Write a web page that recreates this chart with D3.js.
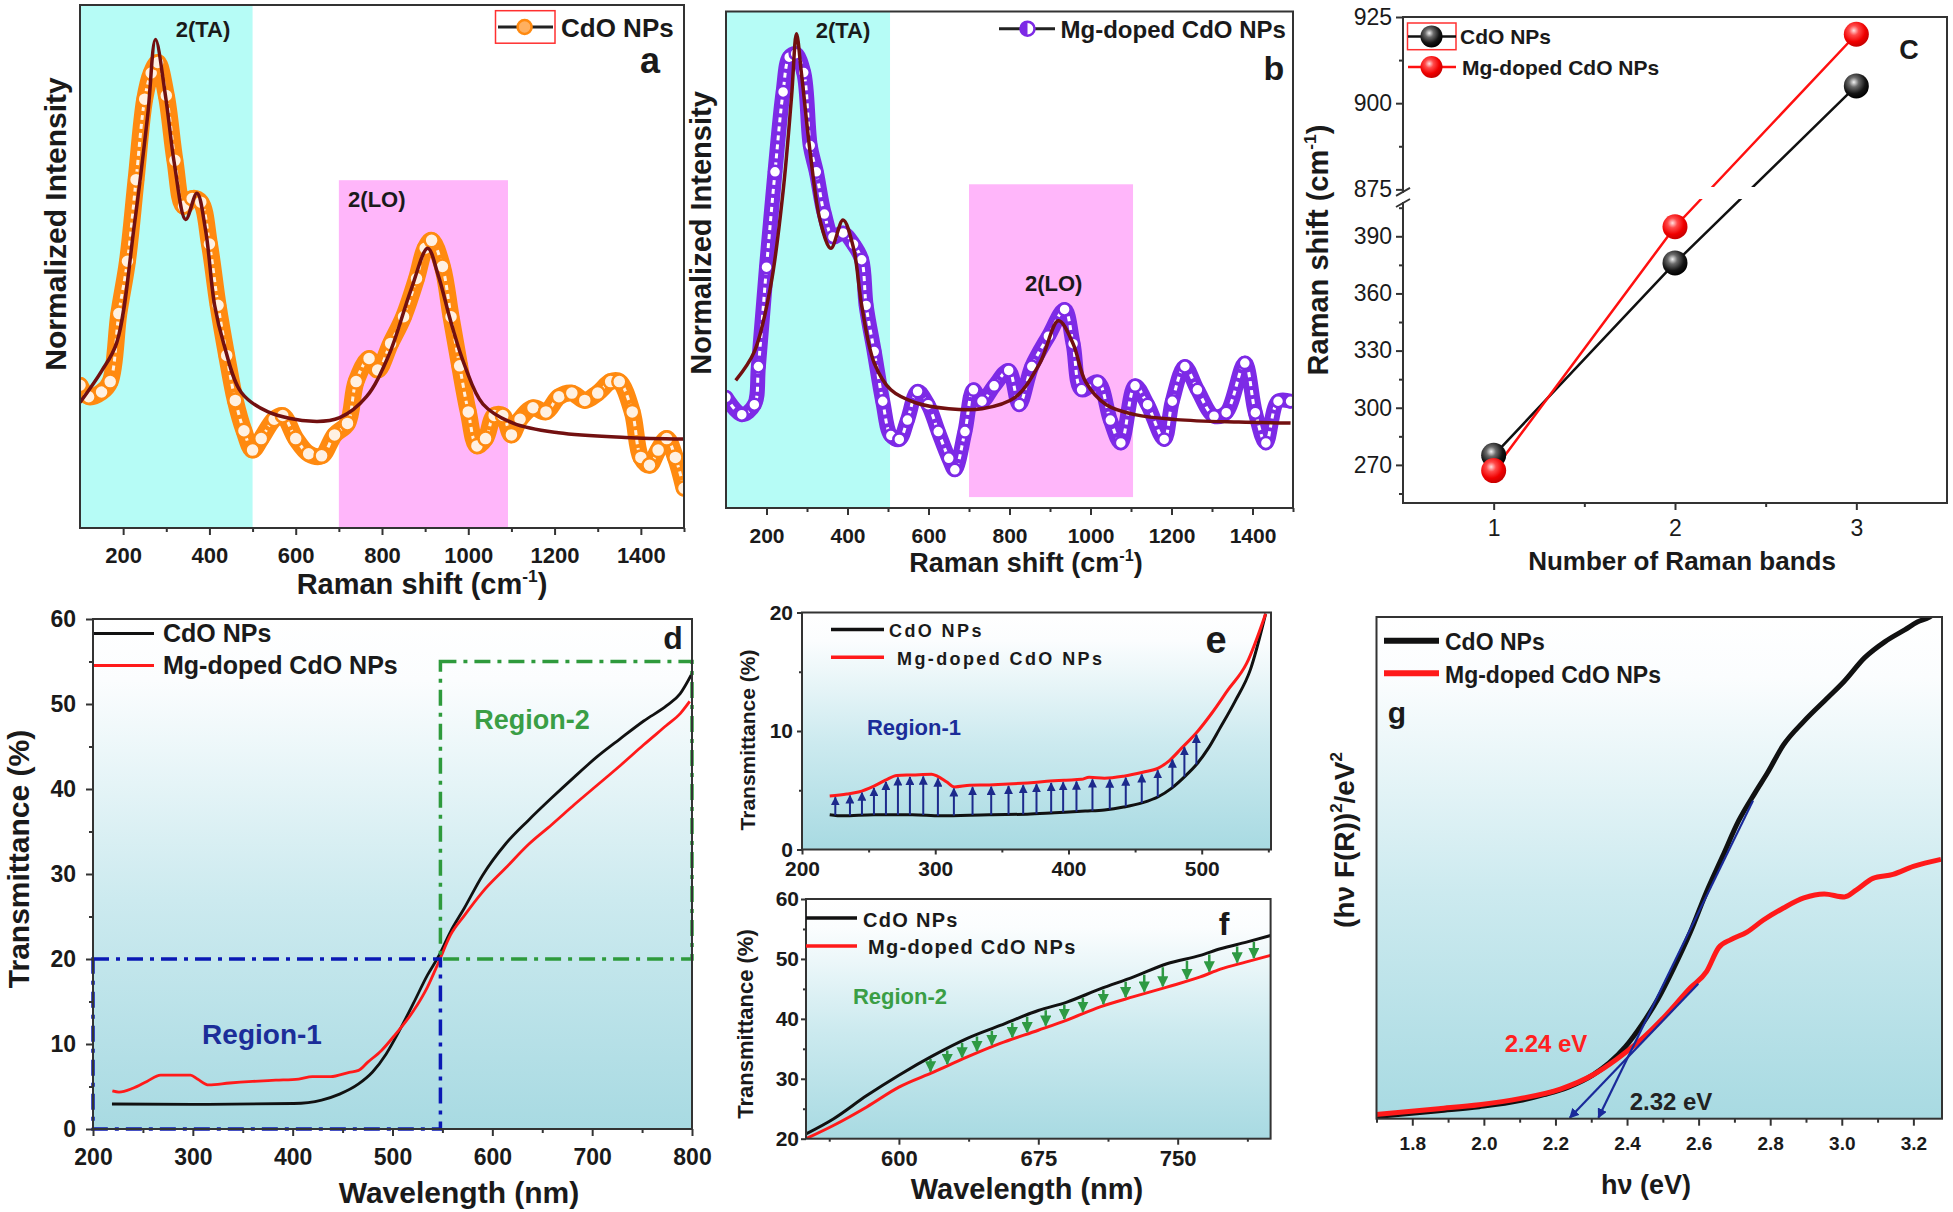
<!DOCTYPE html>
<html>
<head>
<meta charset="utf-8">
<script src="https://cdn.jsdelivr.net/npm/d3@7"></script>
<style>
  body { margin: 0; background: #fff; }
  svg { display: block; }
</style>
</head>
<body>
<div id="chart"></div>
<script>
const W = 1953, H = 1212;
const FONT = "'Liberation Sans', Arial, Helvetica, sans-serif";

// ---- panel a : Raman, CdO (x = cm-1, y = normalized) ----
const ramanCdO = [[100,.273],[120,.251],[150,.26],[170,.28],[190,.41],[210,.51],[230,.666],[250,.82],[265,.87],[280,.89],[300,.827],[320,.703],[340,.615],[360,.63],[380,.623],[400,.543],[420,.426],[440,.33],[460,.244],[480,.186],[500,.149],[520,.171],[550,.208],[570,.215],[600,.171],[630,.142],[660,.138],[690,.178],[720,.2],[740,.28],[770,.324],[790,.302],[820,.353],[850,.404],[880,.477],[900,.535],[915,.55],[940,.5],[960,.404],[980,.31],[1000,.222],[1020,.157],[1040,.171],[1060,.215],[1080,.215],[1100,.178],[1120,.208],[1150,.23],[1180,.222],[1210,.251],[1240,.258],[1270,.244],[1300,.258],[1330,.28],[1350,.28],[1380,.222],[1400,.135],[1420,.12],[1440,.149],[1460,.171],[1480,.135],[1500,.076]];
const ramanCdOFit = [[100,.24],[150,.3],[185,.354],[226,.58],[257,.79],[275,.934],[298,.827],[319,.695],[345,.59],[371,.64],[391,.57],[412,.426],[433,.353],[474,.259],[536,.222],[640,.204],[702,.211],[764,.251],[816,.331],[867,.455],[906,.535],[930,.484],[961,.39],[992,.31],[1034,.237],[1105,.2],[1209,.182],[1364,.173],[1500,.17]];
const bandsA = [[100,500,0,1],[700,1092,0,.665]];

// ---- panel b : Raman, Mg-doped CdO ----
const ramanMg = [[100,.223],[139,.188],[170,.208],[180,.285],[200,.485],[221,.677],[241,.838],[256,.908],[272,.915],[292,.877],[308,.73],[323,.677],[343,.592],[364,.546],[389,.554],[415,.531],[435,.5],[446,.408],[466,.315],[487,.215],[507,.146],[528,.138],[548,.177],[573,.235],[599,.208],[624,.154],[650,.1],[665,.077],[690,.154],[711,.238],[732,.215],[762,.246],[798,.277],[824,.208],[855,.285],[896,.346],[936,.4],[957,.331],[978,.238],[1018,.254],[1049,.177],[1075,.131],[1110,.246],[1141,.208],[1182,.138],[1202,.215],[1233,.285],[1264,.238],[1305,.185],[1335,.192],[1381,.292],[1407,.192],[1433,.131],[1463,.215],[1494,.215]];
const ramanMgFit = [[124,.257],[170,.315],[210,.446],[241,.638],[262,.83],[274,.955],[287,.87],[308,.715],[333,.577],[359,.523],[389,.58],[415,.523],[435,.408],[466,.292],[507,.238],[568,.212],[650,.2],[732,.2],[814,.223],[875,.292],[921,.377],[957,.331],[988,.254],[1039,.208],[1110,.188],[1212,.178],[1366,.173],[1494,.171]];
const bandsB = [[100,505,0,1],[700,1105,.022,.652]];

// ---- panel c : band positions ----
const bands = [1, 2, 3];
const shiftCdO = [275, 376, 905];
const shiftMg = [267, 395, 920];

// ---- panel d : transmittance 200-800 nm ----
const transCdO = [[219,2.94],[300,2.9],[401,3.0],[429,3.4],[447,4.1],[466,5.3],[480,6.7],[493.5,8.8],[507,11.6],[521,14.8],[535,18.1],[546.5,20.4],[558,23.2],[572,26],[590,29.8],[613,33.5],[636,36.3],[659,38.9],[682,41.4],[705,43.8],[728,45.9],[751.6,48],[774.6,49.8],[788,51.2],[800,53.6]];
const transMg = [[219.4,4.48],[226,4.34],[240,4.8],[254,5.6],[267.7,6.35],[281.6,6.35],[297.7,6.35],[304.6,5.88],[316,5.18],[336.9,5.41],[360,5.6],[383,5.74],[406,5.88],[419.8,6.16],[438,6.16],[456.7,6.67],[466,6.9],[475,7.84],[489,9.24],[502.7,11.1],[521,13.9],[535,16.7],[546.5,19.7],[558,22.8],[571.9,25.1],[590.3,27.9],[613.3,30.7],[636.4,33.5],[659.4,35.8],[682.5,38.2],[705.5,40.5],[728.5,42.8],[751.6,45.2],[774.6,47.5],[788.4,48.9],[797.7,50.3]];
const regions = [[200,548,0,20],[548,800,20,55]];

// ---- panel e : region 1 ----
const reg1CdO = [[220.8,2.94],[230.9,2.84],[254,2.94],[282.8,2.94],[304,2.84],[340.5,2.94],[369,2.98],[389.5,3.1],[412.6,3.24],[427,3.34],[441.4,3.58],[455.8,3.95],[467.4,4.45],[477.5,5.18],[487.6,6.19],[496.2,7.19],[504.9,8.53],[513.5,10.2],[525,12.5],[536.6,15.2],[548,19.9]];
const reg1Mg = [[220.8,4.52],[233.7,4.68],[242.4,4.85],[254,5.35],[262.6,5.85],[271.2,6.25],[282.8,6.29],[297.2,6.35],[301.5,6.19],[308.7,5.69],[314.5,5.28],[326,5.42],[340.5,5.45],[354.9,5.52],[369.3,5.62],[383.7,5.75],[398.2,5.85],[409.7,5.92],[415.5,6.09],[427,6.02],[441.4,6.19],[455.8,6.52],[467.4,6.86],[476,7.53],[484.7,8.53],[496.2,9.87],[507.8,11.54],[519.3,13.4],[533.7,15.7],[548,19.9]];
const reg1Arrows = [225,236,245,254,263,272,281,291,302,314,328,342,355,366,376,387,396,406,418,431,443,455,467,478,487,496];

// ---- panel f : region 2 ----
const reg2CdO = [[550,20.8],[564.7,23.3],[582.7,27.2],[600,30.6],[618.6,33.9],[636.5,36.7],[654.5,38.9],[675,41.4],[690.4,42.8],[708.3,45],[726.3,47],[744.2,49.2],[762.2,50.6],[773,51.7],[787,52.8],[800,53.9]];
const reg2Mg = [[550,20],[564.7,22.2],[582.7,25.3],[600,28.6],[618.6,31.1],[636.5,33.6],[654.5,35.9],[675,38.1],[690.4,39.8],[708.3,42],[726.3,43.7],[744.2,45.3],[762.2,47],[773,48.3],[787,49.5],[800,50.6]];
const reg2Arrows = [617,626,634,642,650,661,669,679,689,699,710,722,732,742,755,767,782,791];

// ---- panel g : Tauc plot (x = eV, y = arb.) ----
const taucCdO = [[1.698,.004],[1.874,.016],[1.987,.024],[2.1,.036],[2.168,.048],[2.236,.063],[2.304,.087],[2.35,.111],[2.395,.143],[2.44,.186],[2.486,.238],[2.531,.301],[2.577,.372],[2.622,.452],[2.667,.523],[2.712,.594],[2.758,.65],[2.792,.689],[2.837,.745],[2.894,.792],[2.962,.84],[3.007,.872],[3.064,.919],[3.121,.951],[3.177,.975],[3.211,.99],[3.245,1.0],[3.28,1.02]];
const taucMg = [[1.692,.008],[1.874,.02],[1.987,.028],[2.1,.04],[2.214,.059],[2.304,.087],[2.372,.119],[2.44,.158],[2.508,.206],[2.577,.261],[2.622,.293],[2.656,.341],[2.69,.357],[2.735,.372],[2.781,.396],[2.837,.42],[2.894,.44],[2.951,.448],[3.007,.442],[3.041,.456],[3.087,.479],[3.143,.487],[3.2,.503],[3.277,.517]];
const tangents = [[2.32,0,2.752,.634],[2.24,0,2.599,.269]];

// ---------------------------------------------------------------
const svg = d3.select("#chart").append("svg").attr("width", W).attr("height", H)
  .style("font-family", FONT);
const defs = svg.append("defs");

const bg = defs.append("linearGradient").attr("id", "bg")
  .attr("x1", 0).attr("y1", 0).attr("x2", 0).attr("y2", 1);
[[0, "#ffffff"], [.12, "#fbfdfe"], [.55, "#cceaef"], [1, "#a8dae2"]]
  .forEach(([o, c]) => bg.append("stop").attr("offset", o).attr("stop-color", c));

function ball(id, c0, c1, c2, c3) {
  const r = defs.append("radialGradient").attr("id", id).attr("cx", .4).attr("cy", .35).attr("r", .65);
  [[0, c0], [.3, c1], [.7, c2], [1, c3]].forEach(([o, c]) => r.append("stop").attr("offset", o).attr("stop-color", c));
}
ball("ballK", "#f2f2f2", "#6a6a6a", "#151515", "#000");
ball("ballR", "#ffe0e0", "#ff4a4a", "#f00000", "#c80000");

function arrowMarker(id, color) {
  defs.append("marker").attr("id", id).attr("viewBox", "0 0 10 10")
    .attr("refX", 9).attr("refY", 5).attr("markerWidth", 4.5).attr("markerHeight", 4.5)
    .attr("orient", "auto-start-reverse")
    .append("path").attr("d", "M0,0L10,5L0,10z").attr("fill", color);
}
arrowMarker("arrBlue", "#1c2a8c");
arrowMarker("arrGreen", "#2e9a44");
arrowMarker("arrTan", "#1a2a9a");

let clipN = 0;
function panel(box, xd, yd) {
  const g = svg.append("g");
  const x = d3.scaleLinear(xd, [box.l, box.r]);
  const y = d3.scaleLinear(yd, [box.b, box.t]);
  const id = "clip" + (clipN++);
  defs.append("clipPath").attr("id", id).append("rect")
    .attr("x", box.l).attr("y", box.t).attr("width", box.r - box.l).attr("height", box.b - box.t);
  return { g, x, y, box, clip: `url(#${id})` };
}

function styleAxis(a, fs, weight) {
  a.selectAll(".domain").remove();
  a.selectAll("line").attr("stroke", "#333").attr("stroke-width", 2);
  a.selectAll("text").attr("font-size", fs).attr("font-weight", weight || "bold")
    .attr("fill", "#1a1a1a").attr("font-family", FONT);
}
function xAxis(p, major, minor, fs, o = {}) {
  const a = p.g.append("g").attr("transform", `translate(0,${p.box.b})`);
  a.append("g").call(d3.axisBottom(p.x).tickValues(minor).tickSize(o.minor || 4).tickSizeOuter(0).tickFormat(""));
  a.append("g").call(d3.axisBottom(p.x).tickValues(major).tickSize(o.size || 7).tickSizeOuter(0)
    .tickPadding(o.pad || 8).tickFormat(o.fmt || d3.format("d")));
  styleAxis(a, fs, o.weight);
}
function yAxis(p, scale, major, minor, fs, o = {}) {
  const a = p.g.append("g").attr("transform", `translate(${p.box.l},0)`);
  a.append("g").call(d3.axisLeft(scale).tickValues(minor).tickSize(o.minor || 4).tickSizeOuter(0).tickFormat(""));
  a.append("g").call(d3.axisLeft(scale).tickValues(major).tickSize(o.size || 7).tickSizeOuter(0)
    .tickPadding(o.pad || 6).tickFormat(o.fmt || d3.format("d")));
  styleAxis(a, fs, o.weight);
}
function frame(p) {
  p.g.append("rect").attr("x", p.box.l).attr("y", p.box.t)
    .attr("width", p.box.r - p.box.l).attr("height", p.box.b - p.box.t)
    .attr("fill", "none").attr("stroke", "#333").attr("stroke-width", 2);
}
function label(g, x, y, txt, fs, o = {}) {
  return g.append("text").attr("x", x).attr("y", y).text(txt)
    .attr("font-size", fs).attr("font-weight", o.weight || "bold")
    .attr("fill", o.fill || "#1a1a1a").attr("text-anchor", o.anchor || "start")
    .attr("letter-spacing", o.ls || null);
}
// title with superscripts: parts = [[text, isSup], ...]
function title(g, x, y, parts, fs, rotate) {
  const t = g.append("text").attr("font-size", fs).attr("font-weight", "bold")
    .attr("fill", "#1a1a1a").attr("text-anchor", "middle")
    .attr("transform", rotate ? `translate(${x},${y}) rotate(-90)` : `translate(${x},${y})`);
  parts.forEach(([s, sup]) => {
    const ts = t.append("tspan").text(s);
    if (sup) ts.attr("font-size", fs * 0.6).attr("dy", -fs * 0.42);
    else if (t.selectAll("tspan").size() > 1) ts.attr("dy", fs * 0.42);
  });
  return t;
}
function interp(arr, xv) {
  const i = d3.bisector(d => d[0]).left(arr, xv);
  if (i <= 0) return arr[0][1];
  if (i >= arr.length) return arr[arr.length - 1][1];
  const [x0, y0] = arr[i - 1], [x1, y1] = arr[i];
  return y0 + (y1 - y0) * (xv - x0) / (x1 - x0);
}

// ---------- Raman panels (a, b) ----------
function ramanPanel(box, pts, fit, bandList, col, inner, r, bandLbl, lbl) {
  const p = panel(box, [100, 1500], [0, 1]);
  const bandCol = ["#b6fcf6", "#ffb6fa"];
  p.g.append("g").selectAll("rect").data(bandList).join("rect")
    .attr("x", d => p.x(d[0])).attr("width", d => p.x(d[1]) - p.x(d[0]))
    .attr("y", d => p.y(d[3])).attr("height", d => p.y(d[2]) - p.y(d[3]))
    .attr("fill", (d, i) => bandCol[i]);
  const line = d3.line().x(d => p.x(d[0])).y(d => p.y(d[1])).curve(d3.curveCatmullRom);
  const dg = p.g.append("g").attr("clip-path", p.clip);
  dg.append("path").datum(pts).attr("d", line).attr("fill", "none")
    .attr("stroke", col).attr("stroke-width", r * 2 + 3).attr("stroke-linejoin", "round").attr("stroke-linecap", "round");
  dg.append("path").datum(pts).attr("d", line).attr("fill", "none")
    .attr("stroke", inner).attr("stroke-width", 3).attr("stroke-dasharray", "5,4");
  dg.selectAll("circle").data(pts).join("circle")
    .attr("cx", d => p.x(d[0])).attr("cy", d => p.y(d[1])).attr("r", r)
    .attr("fill", inner).attr("stroke", col).attr("stroke-width", 2.5);
  dg.append("path").datum(fit).attr("d", line).attr("fill", "none")
    .attr("stroke", "#721010").attr("stroke-width", 3.5);
  frame(p);
  bandLbl.forEach(([txt, xv, yb]) => label(p.g, p.x(xv), yb, txt, 22, { anchor: "middle" }));
  label(p.g, lbl[1], lbl[2], lbl[0], lbl[3], { anchor: "middle" });
  return p;
}

// panel a
const pA = ramanPanel({ l: 80, r: 684, t: 5, b: 528 }, ramanCdO, ramanCdOFit, bandsA,
  "#ff8a10", "#fff1e2", 7, [["2(TA)", 385, 37], ["2(LO)", 788, 207]], ["a", 650, 73, 36]);
xAxis(pA, d3.range(200, 1401, 200), d3.range(300, 1501, 200), 22, { pad: 12 });
title(pA.g, 422, 594, [["Raman shift (cm", 0], ["-1", 1], [")", 0]], 29);
title(pA.g, 66, 224, [["Normalized Intensity", 0]], 30, true);
pA.g.append("rect").attr("x", 495.5).attr("y", 10.7).attr("width", 59.5).attr("height", 32.5)
  .attr("fill", "none").attr("stroke", "#ff3030").attr("stroke-width", 1.5);
pA.g.append("line").attr("x1", 498).attr("x2", 553).attr("y1", 27).attr("y2", 27).attr("stroke", "#222").attr("stroke-width", 3);
pA.g.append("circle").attr("cx", 524.6).attr("cy", 27).attr("r", 7).attr("fill", "#ffb060").attr("stroke", "#ff8a10").attr("stroke-width", 2.5);
label(pA.g, 561, 36.5, "CdO NPs", 26);

// panel b
const pB = ramanPanel({ l: 726, r: 1293, t: 11.5, b: 508 }, ramanMg, ramanMgFit, bandsB,
  "#7d2ae6", "#ffffff", 6, [["2(TA)", 389, 38], ["2(LO)", 909, 291]], ["b", 1274, 80, 34]);
xAxis(pB, d3.range(200, 1401, 200), d3.range(300, 1501, 200), 21, { pad: 13 });
title(pB.g, 1026, 572, [["Raman shift (cm", 0], ["-1", 1], [")", 0]], 27);
title(pB.g, 711, 233, [["Normalized Intensity", 0]], 29, true);
pB.g.append("line").attr("x1", 999).attr("x2", 1055).attr("y1", 28.7).attr("y2", 28.7).attr("stroke", "#222").attr("stroke-width", 3);
pB.g.append("circle").attr("cx", 1027.5).attr("cy", 28.7).attr("r", 7).attr("fill", "#fff").attr("stroke", "#7d2ae6").attr("stroke-width", 2.5);
pB.g.append("path").attr("d", d3.arc()({ innerRadius: 0, outerRadius: 7, startAngle: Math.PI, endAngle: 2 * Math.PI }))
  .attr("transform", "translate(1027.5,28.7)").attr("fill", "#7d2ae6");
label(pB.g, 1060.5, 38.3, "Mg-doped CdO NPs", 24);

// ---------- panel c (broken y axis) ----------
const boxC = { l: 1403, r: 1947, t: 17, b: 503 };
const pC = panel(boxC, [0.5, 3.5], [0, 1]);
const yLo = d3.scaleLinear([250, 408], [503, 202]);
const yHi = d3.scaleLinear([874, 925], [192.8, 17]);
const yc = v => (v > 600 ? yHi(v) : yLo(v));
xAxis(pC, bands, [1.5, 2.5], 23, { pad: 10, weight: "normal" });
yAxis(pC, yLo, [270, 300, 330, 360, 390], [255, 285, 315, 345, 375, 405], 23, { pad: 4, weight: "normal" });
yAxis(pC, yHi, [875, 900, 925], [887.5, 912.5], 23, { pad: 4, weight: "normal" });
const lineC = d3.line().x((d, i) => pC.x(bands[i])).y(d => yc(d));
[[shiftCdO, "#111"], [shiftMg, "#ff1010"]].forEach(([s, c]) =>
  pC.g.append("path").datum(s).attr("d", lineC).attr("fill", "none").attr("stroke", c).attr("stroke-width", 2.5));
pC.g.append("rect").attr("x", boxC.l + 1).attr("width", boxC.r - boxC.l - 2)
  .attr("y", 187).attr("height", 12).attr("fill", "#fff");
[[shiftCdO, "url(#ballK)"], [shiftMg, "url(#ballR)"]].forEach(([s, f]) =>
  pC.g.append("g").selectAll("circle").data(s).join("circle")
    .attr("cx", (d, i) => pC.x(bands[i])).attr("cy", d => yc(d)).attr("r", 12.5).attr("fill", f));
// frame with gap on the left side
pC.g.append("path").attr("fill", "none").attr("stroke", "#333").attr("stroke-width", 2)
  .attr("d", `M${boxC.l},${yHi.range()[0]}V${boxC.t}H${boxC.r}V${boxC.b}H${boxC.l}V${yLo.range()[1]}`);
pC.g.append("path").attr("fill", "none").attr("stroke", "#333").attr("stroke-width", 2)
  .attr("d", `M${boxC.l - 7},${yHi.range()[0] + 3}L${boxC.l + 7},${yHi.range()[0] - 5}M${boxC.l - 7},${yLo.range()[1] + 5}L${boxC.l + 7},${yLo.range()[1] - 3}`);
title(pC.g, 1682, 570, [["Number of Raman bands", 0]], 26);
title(pC.g, 1328, 250, [["Raman shift (cm", 0], ["-1", 1], [")", 0]], 29, true);
pC.g.append("rect").attr("x", 1407.5).attr("y", 23).attr("width", 48.5).attr("height", 26.7)
  .attr("fill", "none").attr("stroke", "#ff3030").attr("stroke-width", 1.5);
[[36.4, "#111", "url(#ballK)"], [67, "#ff1010", "url(#ballR)"]].forEach(([yy, c, f]) => {
  pC.g.append("line").attr("x1", 1408).attr("x2", 1456).attr("y1", yy).attr("y2", yy).attr("stroke", c).attr("stroke-width", 2.5);
  pC.g.append("circle").attr("cx", 1431.5).attr("cy", yy).attr("r", 11).attr("fill", f);
});
label(pC.g, 1460, 44, "CdO NPs", 21);
label(pC.g, 1462, 74.5, "Mg-doped CdO NPs", 21);
label(pC.g, 1909, 59, "C", 27, { anchor: "middle" });

// ---------- transmittance panels ----------
function bgRect(p) {
  p.g.append("rect").attr("x", p.box.l).attr("y", p.box.t)
    .attr("width", p.box.r - p.box.l).attr("height", p.box.b - p.box.t).attr("fill", "url(#bg)");
}
function curves(p, series, width) {
  const line = d3.line().x(d => p.x(d[0])).y(d => p.y(d[1])).curve(d3.curveMonotoneX);
  const dg = p.g.append("g").attr("clip-path", p.clip);
  series.forEach(([s, c]) => dg.append("path").datum(s).attr("d", line)
    .attr("fill", "none").attr("stroke", c).attr("stroke-width", width).attr("stroke-linejoin", "round"));
  return dg;
}
function legend(g, x0, x1, rows, fs, width, ls) {
  rows.forEach(([txt, c, yl, tx, ty]) => {
    g.append("line").attr("x1", x0).attr("x2", x1).attr("y1", yl).attr("y2", yl)
      .attr("stroke", c).attr("stroke-width", width);
    label(g, tx, ty, txt, fs, { ls });
  });
}

// panel d
const pD = panel({ l: 93, r: 692, t: 619, b: 1129 }, [200, 800], [0, 60]);
bgRect(pD);
curves(pD, [[transCdO, "#111"], [transMg, "#ff1a1a"]], 2.8);
const regCol = ["#0a18b4", "#2e9a3c"];
pD.g.append("g").selectAll("rect").data(regions).join("rect")
  .attr("x", d => pD.x(d[0])).attr("width", d => pD.x(d[1]) - pD.x(d[0]))
  .attr("y", d => pD.y(d[3])).attr("height", d => pD.y(d[2]) - pD.y(d[3]))
  .attr("fill", "none").attr("stroke", (d, i) => regCol[i]).attr("stroke-width", 3.5)
  .attr("stroke-dasharray", "16,7,4,7");
xAxis(pD, d3.range(200, 801, 100), d3.range(250, 751, 100), 23, { pad: 13 });
yAxis(pD, pD.y, d3.range(0, 61, 10), d3.range(5, 56, 10), 23, { pad: 10 });
frame(pD);
title(pD.g, 459, 1203, [["Wavelength (nm)", 0]], 30);
title(pD.g, 29, 859, [["Transmittance (%)", 0]], 30, true);
legend(pD.g, 94, 154, [["CdO NPs", "#111", 633.6, 163, 642], ["Mg-doped CdO NPs", "#ff1a1a", 665.4, 163, 674]], 25, 3);
label(pD.g, 262, 1044, "Region-1", 28, { anchor: "middle", fill: "#1b2d99" });
label(pD.g, 532, 729, "Region-2", 27, { anchor: "middle", fill: "#3a9e45" });
label(pD.g, 673, 649, "d", 32, { anchor: "middle" });

// panel e
const pE = panel({ l: 802, r: 1271, t: 612.5, b: 849.5 }, [200, 552], [0, 20]);
bgRect(pE);
const eg = curves(pE, [[reg1CdO, "#111"], [reg1Mg, "#ff1a1a"]], 3);
eg.selectAll("line.arr").data(reg1Arrows).join("line").attr("class", "arr")
  .attr("x1", d => pE.x(d)).attr("x2", d => pE.x(d))
  .attr("y1", d => pE.y(interp(reg1CdO, d))).attr("y2", d => pE.y(interp(reg1Mg, d)) + 2)
  .attr("stroke", "#1c2a8c").attr("stroke-width", 2).attr("marker-end", "url(#arrBlue)");
xAxis(pE, [200, 300, 400, 500], [250, 350, 450, 550], 21, { size: 5, minor: 3, pad: 7 });
yAxis(pE, pE.y, [0, 10, 20], [5, 15], 21, { size: 5, minor: 3, pad: 4 });
frame(pE);
title(pE.g, 755, 740, [["Transmittance (%)", 0]], 21, true);
legend(pE.g, 831, 884, [["CdO NPs", "#111", 629.6, 889, 636.7], ["Mg-doped CdO NPs", "#ff1a1a", 657.3, 897, 664.5]], 18, 3.5, 2.4);
label(pE.g, 914, 734.6, "Region-1", 22, { anchor: "middle", fill: "#1b2d99" });
label(pE.g, 1216, 653, "e", 38, { anchor: "middle" });

// panel f
const pF = panel({ l: 806, r: 1270.6, t: 899, b: 1138.7 }, [550, 800], [20, 60]);
bgRect(pF);
const fg = curves(pF, [[reg2CdO, "#111"], [reg2Mg, "#ff1a1a"]], 3);
fg.selectAll("line.arr").data(reg2Arrows).join("line").attr("class", "arr")
  .attr("x1", d => pF.x(d)).attr("x2", d => pF.x(d))
  .attr("y1", d => pF.y(interp(reg2CdO, d)) + 2).attr("y2", d => pF.y(interp(reg2Mg, d)) - 2)
  .attr("stroke", "#2e9a44").attr("stroke-width", 2.5).attr("marker-end", "url(#arrGreen)");
xAxis(pF, [600, 675, 750], [562.5, 637.5, 712.5, 787.5], 22, { size: 6, minor: 3, pad: 6 });
yAxis(pF, pF.y, d3.range(20, 61, 10), d3.range(25, 56, 10), 21, { size: 5, minor: 3, pad: 2 });
frame(pF);
title(pF.g, 1027, 1199, [["Wavelength (nm)", 0]], 29);
title(pF.g, 753, 1024, [["Transmittance (%)", 0]], 22, true);
legend(pF.g, 806, 857, [["CdO NPs", "#111", 918, 863, 927], ["Mg-doped CdO NPs", "#ff1a1a", 946, 868, 954]], 20, 3.5, 1.3);
label(pF.g, 900, 1004, "Region-2", 22, { anchor: "middle", fill: "#3a9e45" });
label(pF.g, 1224, 934.6, "f", 32, { anchor: "middle" });

// panel g
const pG = panel({ l: 1376.5, r: 1942, t: 617, b: 1118.7 }, [1.7, 3.28], [0, 1]);
bgRect(pG);
const gg = curves(pG, [[taucCdO, "#111"], [taucMg, "#ff1a1a"]], 5);
gg.selectAll("line.tan").data(tangents).join("line").attr("class", "tan")
  .attr("x1", d => pG.x(d[0])).attr("y1", d => pG.y(d[1]) - 1)
  .attr("x2", d => pG.x(d[2])).attr("y2", d => pG.y(d[3]))
  .attr("stroke", "#1a2a9a").attr("stroke-width", 2.2).attr("marker-start", "url(#arrTan)");
xAxis(pG, d3.range(1.8, 3.25, 0.2), d3.range(1.7, 3.3, 0.2), 19, { pad: 11, fmt: d3.format(".1f") });
frame(pG);
title(pG.g, 1646, 1194, [["h\u03bd (eV)", 0]], 27);
title(pG.g, 1354, 840, [["(h\u03bd F(R))", 0], ["2", 1], ["/eV", 0], ["2", 1]], 28, true);
legend(pG.g, 1384, 1439, [["CdO NPs", "#111", 640.8, 1445, 649.5], ["Mg-doped CdO NPs", "#ff1a1a", 673.3, 1445, 683]], 23, 6);
label(pG.g, 1546, 1052, "2.24 eV", 24, { anchor: "middle", fill: "#ff2020" });
label(pG.g, 1671, 1110, "2.32 eV", 24, { anchor: "middle", fill: "#222" });
label(pG.g, 1397, 723, "g", 30, { anchor: "middle" });
</script>
</body>
</html>
